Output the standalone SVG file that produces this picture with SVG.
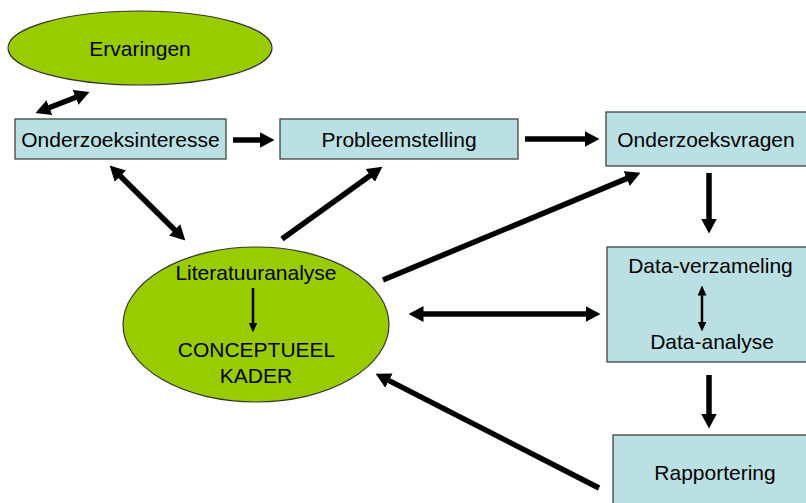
<svg xmlns="http://www.w3.org/2000/svg" width="806" height="503" viewBox="0 0 806 503">
  <style>
    .box { fill: #bbe0e3; stroke: #333; stroke-width: 1.2; }
    .oval { fill: #99cc00; stroke: #333; stroke-width: 1.2; }
    .lbl { font-family: "Liberation Sans", Arial, sans-serif; font-size: 21px; fill: #000; text-anchor: middle; }
    .arr { stroke: #000; stroke-width: 5.5; fill: none; marker-end: url(#head); }
    .arr2 { stroke: #000; stroke-width: 5.5; fill: none; marker-start: url(#head); marker-end: url(#head); }
    .thin { stroke: #000; stroke-width: 2.5; fill: none; marker-end: url(#small); }
    .thin2 { stroke: #000; stroke-width: 2.5; fill: none; marker-start: url(#small); marker-end: url(#small); }
  </style>
  <defs>
    <marker id="head" viewBox="0 0 15 16" markerUnits="userSpaceOnUse" markerWidth="15" markerHeight="16" refX="0.5" refY="8" orient="auto-start-reverse">
      <path d="M0,0 L15,8 L0,16 z" fill="#000"/>
    </marker>
    <marker id="small" viewBox="0 0 10 9" markerUnits="userSpaceOnUse" markerWidth="10" markerHeight="9" refX="0.5" refY="4.5" orient="auto-start-reverse">
      <path d="M0,0 L10,4.5 L0,9 z" fill="#000"/>
    </marker>
  </defs>

  <g id="ervaringen">
    <ellipse class="oval" cx="140" cy="48" rx="132" ry="37"/>
    <text class="lbl" x="140" y="56">Ervaringen</text>
  </g>

  <g id="onderzoeksinteresse">
    <rect class="box" x="15" y="119" width="211" height="40"/>
    <text class="lbl" x="120.5" y="147">Onderzoeksinteresse</text>
  </g>

  <g id="probleemstelling">
    <rect class="box" x="280" y="119" width="238" height="40"/>
    <text class="lbl" x="399" y="147">Probleemstelling</text>
  </g>

  <g id="onderzoeksvragen">
    <rect class="box" x="606" y="112" width="206" height="54"/>
    <text class="lbl" x="706" y="147">Onderzoeksvragen</text>
  </g>

  <g id="literatuuranalyse">
    <ellipse class="oval" cx="256" cy="324.5" rx="133" ry="77.5"/>
    <text class="lbl" x="256" y="280">Literatuuranalyse</text>
    <line class="thin" x1="253" y1="288" x2="253" y2="323"/>
    <text class="lbl" x="256.5" y="357">CONCEPTUEEL</text>
    <text class="lbl" x="256" y="383">KADER</text>
  </g>

  <g id="data">
    <rect class="box" x="607" y="247" width="205" height="115"/>
    <text class="lbl" x="710.5" y="273">Data-verzameling</text>
    <line class="thin2" x1="702" y1="295" x2="702" y2="322"/>
    <text class="lbl" x="712" y="349">Data-analyse</text>
  </g>

  <g id="rapportering">
    <rect class="box" x="613" y="435" width="200" height="75"/>
    <text class="lbl" x="715" y="480">Rapportering</text>
  </g>

  <g id="connectors">
    <line class="arr2" x1="49" y1="107.8" x2="76" y2="97.2"/>
    <line class="arr" x1="233" y1="140" x2="260" y2="140"/>
    <line class="arr" x1="525" y1="139" x2="585" y2="139"/>
    <line class="arr2" x1="120" y1="175.8" x2="175" y2="230.2"/>
    <line class="arr" x1="282" y1="239" x2="370.6" y2="175.2"/>
    <line class="arr" x1="383" y1="280" x2="627.1" y2="178.4"/>
    <line class="arr" x1="709" y1="173" x2="709" y2="219"/>
    <line class="arr2" x1="423" y1="314" x2="586" y2="314"/>
    <line class="arr" x1="709" y1="375" x2="709" y2="414"/>
    <line class="arr" x1="599" y1="488" x2="388.5" y2="380.4"/>
  </g>
</svg>
